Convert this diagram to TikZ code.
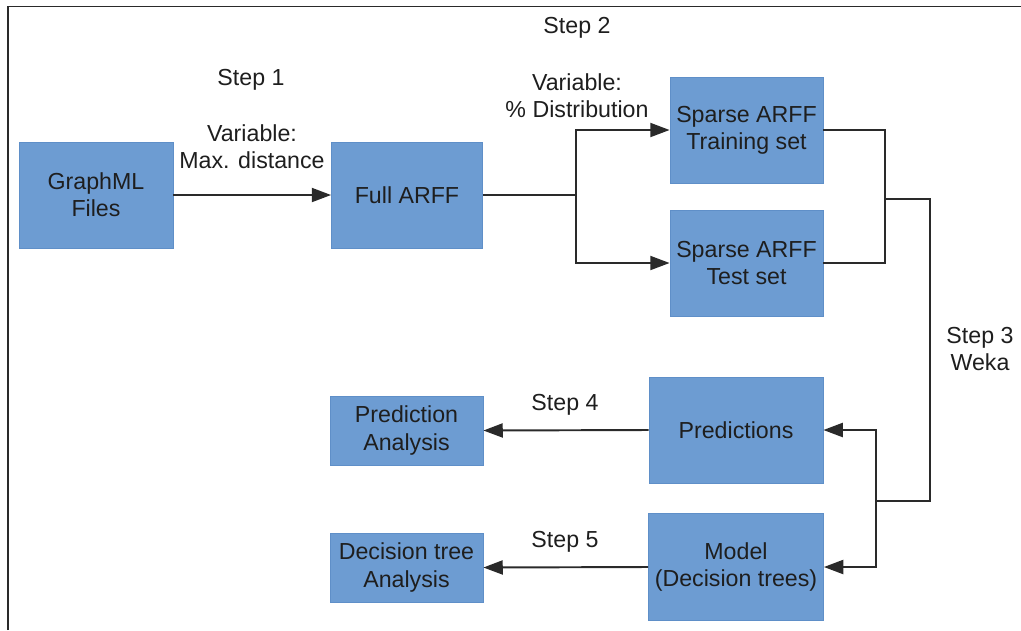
\documentclass[tikz,border=0pt]{standalone}
\usepackage{fontspec}
\setmainfont{Liberation Sans}
\usetikzlibrary{arrows.meta}
\definecolor{boxfill}{HTML}{6D9CD2}
\definecolor{boxline}{HTML}{5F8FC8}
\definecolor{ink}{HTML}{1E1E1E}
\definecolor{wire}{HTML}{2A2A2A}
\tikzset{
  box/.style={draw=boxline, line width=0.5pt, fill=boxfill, text=ink,
    align=center, inner sep=0pt, font=\fontsize{13.2}{15.5}\selectfont},
  lbl/.style={text=ink, align=center, inner sep=0pt, font=\fontsize{13.2}{15.5}\selectfont},
  wireline/.style={draw=wire, line width=1.1pt},
  arr/.style={wireline, -{Triangle[length=11pt,width=8pt]}},
}
\begin{document}
\begin{tikzpicture}[x=0.02cm, y=-0.02cm]
  \useasboundingbox (0,0) rectangle (1021,630);
  % frame
  \draw[draw=wire, line width=1.1pt] (8,630) -- (8,6.5) -- (1021,6.5);

  % process boxes
  \node[box, minimum width=3.08cm, minimum height=2.12cm] (gml)   at (96,195)    {GraphML\\Files};
  \node[box, minimum width=3.02cm, minimum height=2.12cm] (full)  at (407,195)   {Full ARFF};
  \node[box, minimum width=3.06cm, minimum height=2.12cm] (train) at (746.5,130) {Sparse ARFF\\Training set};
  \node[box, minimum width=3.06cm, minimum height=2.12cm] (test)  at (746.5,263) {Sparse ARFF\\Test set};
  \node[box, minimum width=3.48cm, minimum height=2.12cm] (pred)  at (736,430)   {Predictions};
  \node[box, minimum width=3.50cm, minimum height=2.14cm] (model) at (736,567)   {Model\\(Decision trees)};
  \node[box, minimum width=3.06cm, minimum height=1.38cm] (pa)    at (406.5,430.5) {Prediction\\Analysis};
  \node[box, minimum width=3.06cm, minimum height=1.38cm] (dta)   at (406.5,567.5) {Decision tree\\Analysis};

  % labels
  \node[lbl] (s1)  at (251,80)  {Step 1};
  \node[lbl] (s2l) at (577,28)  {Step 2};
  \node[lbl] (v1)  at (252,147) {Variable:\\Max. distance};
  \node[lbl] (v2)  at (577,96)  {Variable:\\\% Distribution};
  \node[lbl] (s3)  at (980,349) {Step 3\\Weka};
  \node[lbl] (s4)  at (565,405) {Step 4};
  \node[lbl] (s5)  at (565,542) {Step 5};

  % junction points
  \coordinate (split) at (576,195);
  \coordinate (m1) at (885,199);
  \coordinate (m2) at (930,199);
  \coordinate (m3) at (930,501);
  \coordinate (m4) at (876,501);

  % connectors
  \draw[arr] (gml.east) -- (full.west);
  \draw[wireline] (full.east) -- (split);
  \draw[arr] (split) |- (train.west);
  \draw[arr] (split) |- (test.west);
  \draw[wireline] (train.east) -| (m1);
  \draw[wireline] (test.east) -| (m1);
  \draw[wireline] (m1) -- (m2) -- (m3) -- (m4);
  \draw[arr] (m4) |- (pred.east);
  \draw[arr] (m4) |- (model.east);
  \draw[arr] (pred.west) -- (pa.east);
  \draw[arr] (model.west) -- (dta.east);
\end{tikzpicture}
\end{document}
